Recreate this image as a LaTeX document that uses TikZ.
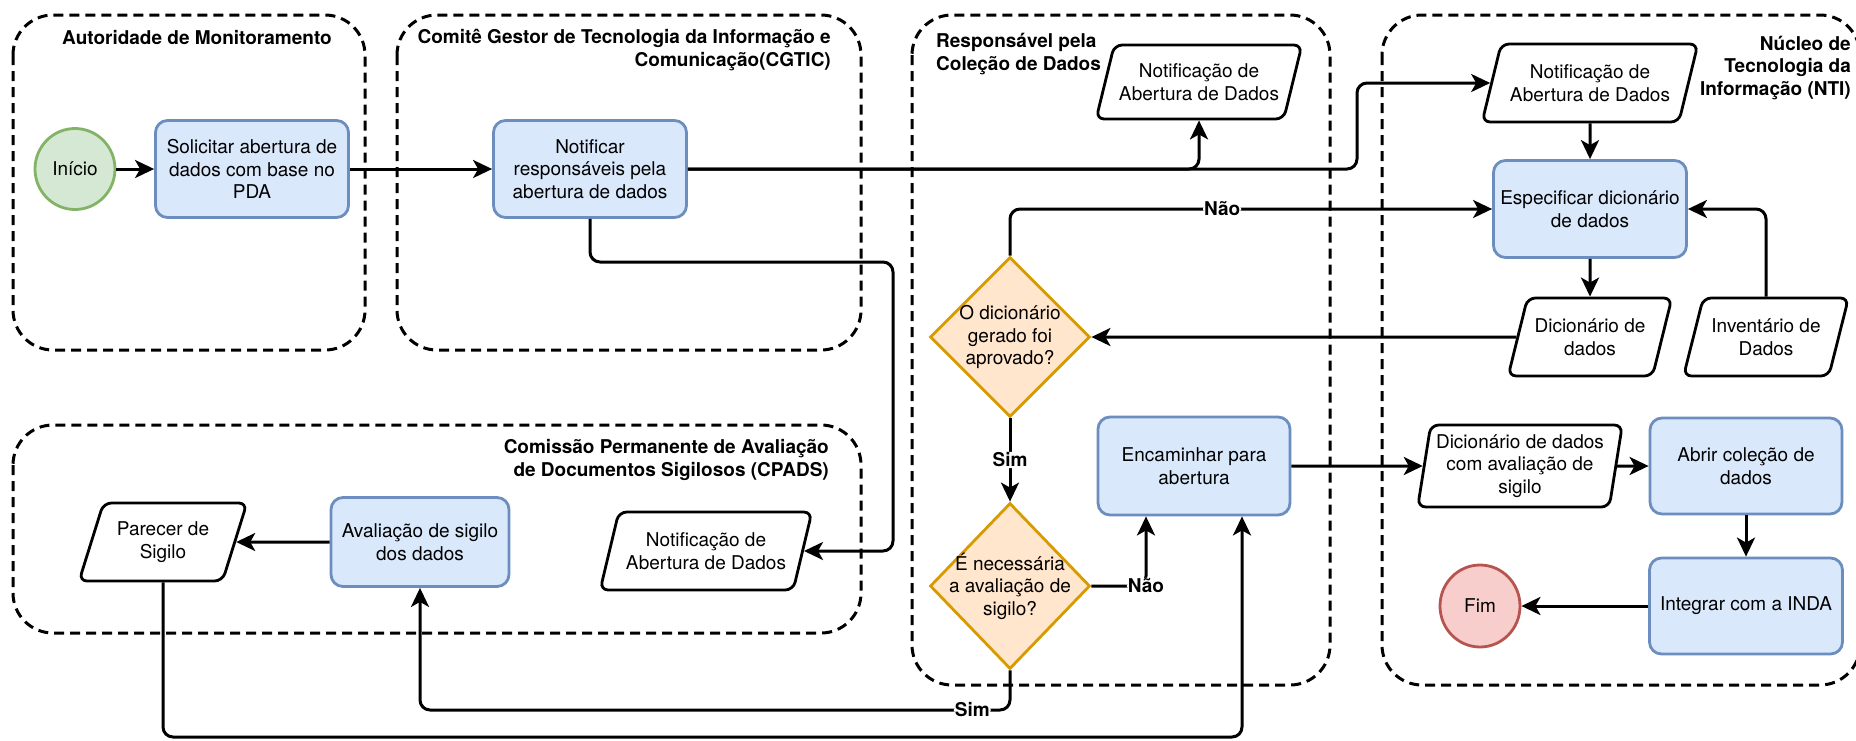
\documentclass[tikz,border=0pt]{standalone}
\usepackage{fontspec}
\setmainfont{TeX Gyre Heros}
\usetikzlibrary{shapes.geometric,arrows.meta}

\definecolor{taskfill}{HTML}{DAE8FC}
\definecolor{taskline}{HTML}{6C8EBF}
\definecolor{startfill}{HTML}{D5E8D4}
\definecolor{startline}{HTML}{82B366}
\definecolor{endfill}{HTML}{F8CECC}
\definecolor{endline}{HTML}{B85450}
\definecolor{askfill}{HTML}{FFE6CC}
\definecolor{askline}{HTML}{D79B00}

\begin{document}
\begin{tikzpicture}[x=1pt,y=-1pt,
	font=\fontsize{19}{22.5}\selectfont,
	lane/.style={draw, line width=3pt, dash pattern=on 10pt off 6pt, rounded corners=40pt},
	lanetitle/.style={font=\fontsize{19}{22.5}\selectfont\bfseries, align=#1, inner sep=0pt},
	task/.style={draw=taskline, fill=taskfill, line width=2.8pt, rounded corners=12pt, minimum width=193pt, minimum height=97pt, align=center, inner sep=0pt},
	terminal/.style={ellipse, line width=2.8pt, minimum width=80pt, minimum height=81pt, inner sep=0pt},
	datum/.style={trapezium, trapezium left angle=65, trapezium right angle=115, trapezium stretches=true, draw, line width=2.8pt, rounded corners=8pt, align=center, inner sep=0pt, minimum height=78pt},
	decision/.style={diamond, draw=askline, fill=askfill, line width=2.8pt, minimum width=160pt, minimum height=#1, inner sep=0pt},
	flow/.style={line width=3pt, rounded corners=10pt, -{Stealth[length=19pt, width=18pt, inset=5pt]}},
	answer/.style={font=\fontsize{19}{22.5}\selectfont\bfseries, fill=white, inner sep=1pt}]
	\useasboundingbox (0,0) rectangle (1856,740);

	\draw [lane] (13,15) rectangle (365,350);
	\draw [lane] (397,15) rectangle (861,350);
	\draw [lane] (13,425) rectangle (861,633);
	\draw [lane] (912,15) rectangle (1330,685);
	\draw [lane] (1382,15) rectangle (1860,685);

	\node (autoridade) at (197,38) [lanetitle=center] {Autoridade de Monitoramento};
	\node (cgtic) at (831,50) [lanetitle=right, anchor=east] {Comitê Gestor de Tecnologia da Informação e\\Comunicação(CGTIC)};
	\node (cpads) at (829,460) [lanetitle=right, anchor=east] {Comissão Permanente de Avaliação\\de Documentos Sigilosos (CPADS)};
	\node (rcd) at (936,54) [lanetitle=left, anchor=west] {Responsável pela\\Coleção de Dados};
	\node (nti) at (1851,68) [lanetitle=right, anchor=east] {Núcleo de\\Tecnologia da\\Informação (NTI)};

	\node (inicio) at (75,169) [terminal, draw=startline, fill=startfill] {Início};
	\node (solicitar) at (252,169) [task] {Solicitar abertura de\\dados com base no\\PDA};
	\node (notificar) at (590,169) [task] {Notificar\\responsáveis pela\\abertura de dados};
	\node (notifCPADS) at (706,551) [datum, minimum width=212pt] {Notificação de\\Abertura de Dados};
	\node (avaliacao) at (420,542) [task, minimum width=178pt, minimum height=89pt] {Avaliação de sigilo\\dos dados};
	\node (parecer) at (163,542) [datum, minimum width=168pt] {Parecer de\\Sigilo};

	\node (notifRCD) at (1199,82) [datum, minimum width=206pt, minimum height=74pt] {Notificação de\\Abertura de Dados};
	\node (dec1) at (1010,337) [decision=160pt, label={[align=center]center:O dicionário\\gerado foi\\aprovado?}] {};
	\node (dec2) at (1010,586) [decision=166pt, label={[align=center]center:É necessária\\a avaliação de\\sigilo?}] {};
	\node (encaminhar) at (1194,466) [task, minimum width=192pt, minimum height=98pt] {Encaminhar para\\abertura};

	\node (notifNTI) at (1590,83) [datum, minimum width=216pt] {Notificação de\\Abertura de Dados};
	\node (especificar) at (1590,209) [task] {Especificar dicionário\\de dados};
	\node (dicionario) at (1590,337) [datum, minimum width=164pt] {Dicionário de\\dados};
	\node (inventario) at (1766,337) [datum, minimum width=165pt] {Inventário de\\Dados};
	\node (dicAval) at (1520,466) [datum, trapezium left angle=79, trapezium right angle=101, minimum width=205pt, minimum height=82pt] {Dicionário de dados\\com avaliação de\\sigilo};
	\node (abrir) at (1746,466) [task, minimum width=192pt, minimum height=96pt] {Abrir coleção de\\dados};
	\node (integrar) at (1746,606) [task, minimum width=193pt, minimum height=96pt] {Integrar com a INDA};
	\node (fim) at (1480,606) [terminal, draw=endline, fill=endfill, minimum height=82pt] {Fim};

	\coordinate (nticorner) at (1357,169);
	\coordinate (cpadsturn) at (893,262);
	\coordinate (simturn) at (1010,710);
	\coordinate (parecerturn) at (163,737);

	\draw [flow] (inicio) -- (solicitar);
	\draw [flow] (solicitar) -- (notificar);
	\draw [flow] (notificar.east) -| (notifRCD.south);
	\draw [flow] (notificar.east) -- (nticorner) |- (notifNTI.west);
	\draw [flow] (notificar.south) |- (cpadsturn) |- (notifCPADS.east);
	\draw [flow] (notifNTI.south) -- (especificar.north);
	\draw [flow] (especificar.south) -- (dicionario.north);
	\draw [flow] (inventario.north) |- (especificar.east);
	\draw [flow] (dicionario.west) -- (dec1.east);
	\draw [flow] (dec1.north) |- (especificar.west) node [answer, pos=0.72] {Não};
	\draw [flow] (dec1.south) -- (dec2.north) node [answer, midway] {Sim};
	\draw [flow] (dec2.east) -| ([xshift=-48pt]encaminhar.south) node [answer, pos=0.5] {Não};
	\draw [flow] (dec2.south) -- (simturn) -| (avaliacao.south) node [answer, pos=0.032] {Sim};
	\draw [flow] (avaliacao.west) -- (parecer.east);
	\draw [flow] (parecer.south) -- (parecerturn) -| ([xshift=48pt]encaminhar.south);
	\draw [flow] (encaminhar.east) -- (dicAval.west);
	\draw [flow] (dicAval.east) -- (abrir.west);
	\draw [flow] (abrir.south) -- (integrar.north);
	\draw [flow] (integrar.west) -- (fim.east);
\end{tikzpicture}
\end{document}
